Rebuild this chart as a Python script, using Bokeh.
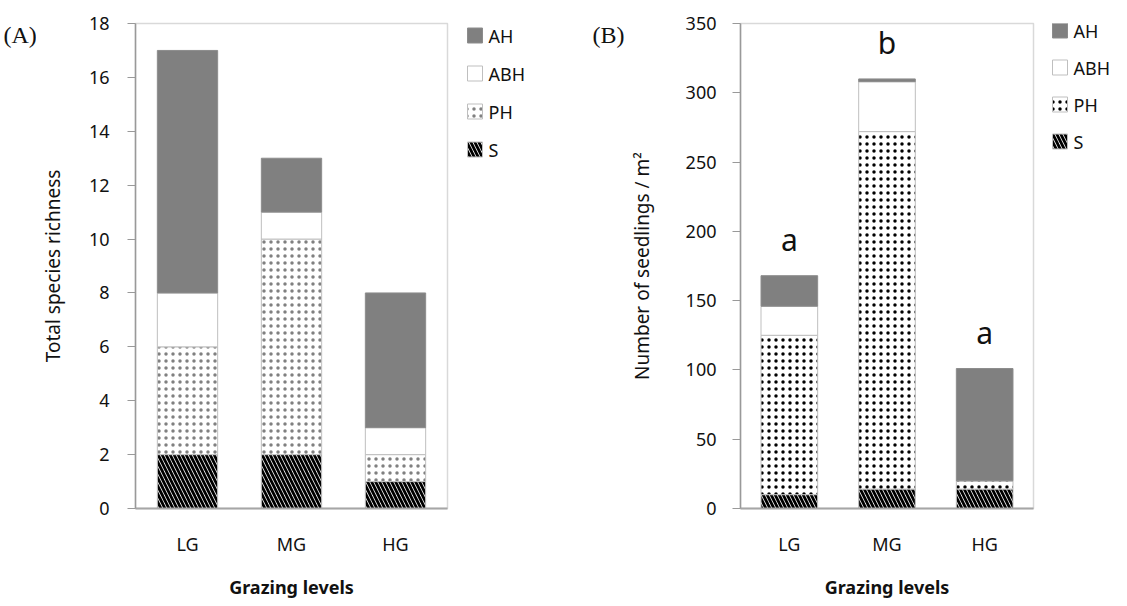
from bokeh.plotting import figure
from bokeh.models import Range1d, SingleIntervalTicker
from bokeh.layouts import row
from bokeh.embed import file_html
from bokeh.resources import INLINE
from bokeh.core.properties import value

# ---------------- data ----------------
categories = ["LG", "MG", "HG"]
series_names = ["S", "PH", "ABH", "AH"]
legend_order = ["AH", "ABH", "PH", "S"]

# (A) total species richness
richness_S = [2, 2, 1]
richness_PH = [4, 8, 1]
richness_ABH = [2, 1, 1]
richness_AH = [9, 2, 5]

# (B) number of seedlings / m2
seedlings_S = [10, 14, 14]
seedlings_PH = [115, 258, 6]
seedlings_ABH = [21, 36, 0]
seedlings_AH = [22, 2, 81]
seedling_letters = ["a", "b", "a"]

FONT = "Noto Sans"
SERIF = "Liberation Serif"
TXT = "#111111"
H = 601
FRAME_TOP = 23
FRAME_BOTTOM = 508


def series_style(name, dot_color):
    kw = dict(line_color="#bfbfbf", line_width=1)
    if name == "S":
        kw.update(fill_color="white", hatch_pattern="left_diagonal_line",
                  hatch_color="black", hatch_weight=2.8, hatch_scale=8)
    elif name == "PH":
        kw.update(fill_color="white", hatch_pattern="dot",
                  hatch_color=dot_color, hatch_weight=2.2, hatch_scale=7)
    elif name == "ABH":
        kw.update(fill_color="white")
    else:
        kw.update(fill_color="#808080", line_color="#8c8c8c")
    return kw


def style(p, ylabel, tick_interval, tick_standoff, label_standoff):
    p.xgrid.visible = False
    p.ygrid.visible = False
    p.outline_line_color = "#d9d9d9"
    p.outline_line_width = 1.5
    p.yaxis.ticker = SingleIntervalTicker(interval=tick_interval)
    p.yaxis.minor_tick_line_color = None
    p.yaxis.major_tick_out = 8
    p.yaxis.major_tick_in = 0
    p.yaxis.major_tick_line_color = "#999999"
    p.yaxis.axis_line_color = "#999999"
    p.yaxis.axis_line_width = 1.5
    p.yaxis.major_label_standoff = tick_standoff
    p.yaxis.major_label_text_font = FONT
    p.yaxis.major_label_text_font_size = "18px"
    p.yaxis.major_label_text_color = TXT
    p.yaxis.axis_label = ylabel
    p.yaxis.axis_label_text_font = FONT
    p.yaxis.axis_label_text_font_size = "19px"
    p.yaxis.axis_label_text_font_style = "normal"
    p.yaxis.axis_label_text_color = TXT
    p.yaxis.axis_label_standoff = label_standoff

    p.xaxis.major_tick_line_color = None
    p.xaxis.minor_tick_line_color = None
    p.xaxis.axis_line_color = "#a6a6a6"
    p.xaxis.axis_line_width = 2
    p.xaxis.major_label_standoff = 17
    p.xaxis.major_label_text_font = FONT
    p.xaxis.major_label_text_font_size = "18px"
    p.xaxis.major_label_text_color = TXT
    p.xaxis.axis_label = "Grazing levels"
    p.xaxis.axis_label_text_font = FONT
    p.xaxis.axis_label_text_font_size = "18px"
    p.xaxis.axis_label_text_font_style = "bold"
    p.xaxis.axis_label_text_color = TXT
    p.xaxis.axis_label_standoff = 16
    p.background_fill_color = "white"
    p.border_fill_color = "white"


def stacked(p, values_list, dot_color):
    bottoms = [0] * len(categories)
    for name, vals in zip(series_names, values_list):
        tops = [b + v for b, v in zip(bottoms, vals)]
        p.vbar(x=categories, bottom=bottoms, top=tops, width=0.58,
               **series_style(name, dot_color))
        bottoms = tops
    return bottoms


def blank_fig(width):
    # pixel-space strip; its frame is aligned with the row's plot frames,
    # so the y range runs downward in page pixels from frame bottom to frame top
    f = figure(width=width, height=H, output_backend="svg", toolbar_location=None,
               x_axis_type=None, y_axis_type=None,
               x_range=Range1d(0, width), y_range=Range1d(FRAME_BOTTOM, FRAME_TOP),
               min_border=0, min_border_left=0, min_border_right=0,
               min_border_top=0, min_border_bottom=0)
    f.outline_line_color = None
    f.xgrid.visible = False
    f.ygrid.visible = False
    f.background_fill_color = "white"
    f.border_fill_color = "white"
    return f


def draw_legend(f, dot_color, x0, first_center, pitch, box=15):
    for i, name in enumerate(legend_order):
        cy = first_center + i * pitch
        f.quad(left=[x0], right=[x0 + box], bottom=[cy + box / 2], top=[cy - box / 2],
               **series_style(name, dot_color))
        f.text(x=[x0 + box + 6], y=[cy], text=[name], text_font=value(FONT),
               text_font_size="18px", text_color=TXT, text_baseline="middle")


def panel_tag(f, text, x):
    f.text(x=[x], y=[34], text=[text], text_font=value(SERIF),
           text_font_size="24px", text_color=TXT, text_baseline="middle")


# ---------------- "(A)" strip ----------------
fa = blank_fig(36)
panel_tag(fa, "(A)", 3)

# ---------------- panel A ----------------
p1 = figure(x_range=categories, y_range=Range1d(0, 18), width=413, height=H,
            output_backend="svg", toolbar_location=None,
            min_border_left=97, min_border_right=2, min_border_top=FRAME_TOP, min_border_bottom=90)
style(p1, "Total species richness", 2, 18, 20)
stacked(p1, [richness_S, richness_PH, richness_ABH, richness_AH], "#808080")

# legend A + "(B)"
leg1 = blank_fig(176)
draw_legend(leg1, "#808080", 18, 35, 38)
panel_tag(leg1, "(B)", 143)

# ---------------- panel B ----------------
p2 = figure(x_range=categories, y_range=Range1d(0, 350), width=410, height=H,
            output_backend="svg", toolbar_location=None,
            min_border_left=111, min_border_right=2, min_border_top=FRAME_TOP, min_border_bottom=92)
style(p2, "Number of seedlings / m²", 50, 16, 28)
totals = stacked(p2, [seedlings_S, seedlings_PH, seedlings_ABH, seedlings_AH], "black")
p2.text(x=categories, y=[t + 26 for t in totals], text=seedling_letters,
        text_font=value(FONT), text_font_size="30px", text_color=TXT,
        text_align="center", text_baseline="middle")

leg2 = blank_fig(90)
draw_legend(leg2, "black", 17, 30, 37)

layout = row(fa, p1, leg1, p2, leg2)
open("out.html", "w").write(file_html(layout, INLINE))
